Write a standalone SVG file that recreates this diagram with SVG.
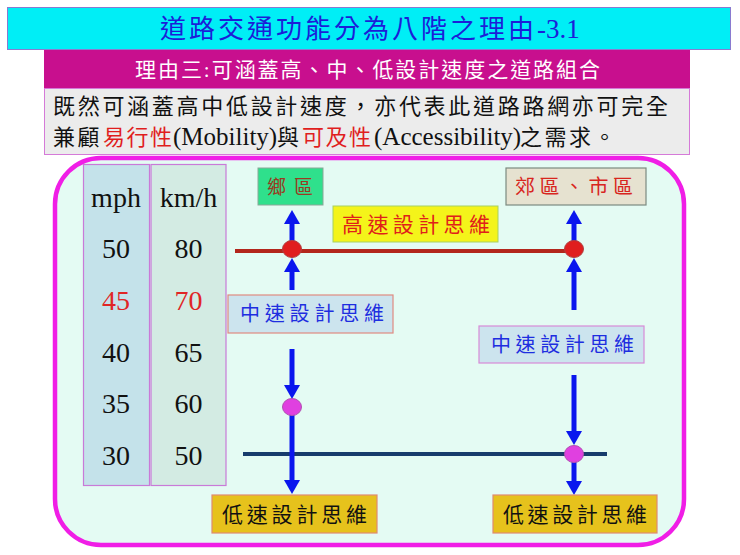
<svg xmlns="http://www.w3.org/2000/svg" width="740" height="555" viewBox="0 0 740 555">
<defs>
<marker id="ah" viewBox="0 0 14 16" refX="0" refY="8" markerWidth="14" markerHeight="16" markerUnits="userSpaceOnUse" orient="auto">
<path d="M0,0 L14,8 L0,16 z" fill="#0a16ee"/>
</marker>
<style>
.cjk{font-family:"Liberation Serif","Noto Sans CJK TC",serif;}
.num{font-family:"Liberation Serif",serif;font-size:28px;fill:#111;text-anchor:middle;}
.arrow{stroke:#0a16ee;stroke-width:5;fill:none;marker-end:url(#ah);}
.lbl{font-family:"Noto Sans CJK TC",sans-serif;}
</style>
</defs>
<rect width="740" height="555" fill="#ffffff"/>

<g id="title">
<rect x="7.5" y="7.5" width="723" height="42" fill="#00eef6" stroke="#8a7ad0" stroke-width="1"/>
<text class="cjk" x="160" y="38" font-size="26" fill="#1c1ed8"><tspan letter-spacing="3">道路交通功能分為八階之理由</tspan><tspan font-size="27">-3.1</tspan></text>
</g>

<g id="subtitle">
<rect x="44" y="50" width="646" height="38" fill="#c80f8e"/>
<text class="cjk" x="135" y="77" font-size="21" fill="#ffffff" textLength="465" lengthAdjust="spacing">理由三:可涵蓋高、中、低設計速度之道路組合</text>
</g>

<g id="description">
<rect x="44.5" y="88.5" width="645" height="66" fill="#ececec" stroke="#d57ad8" stroke-width="1"/>
<text class="cjk" x="53" y="114" font-size="22" fill="#111" textLength="615" lengthAdjust="spacing">既然可涵蓋高中低設計速度，亦代表此道路路網亦可完全</text>
<text class="cjk" y="145" font-size="22" fill="#111">
<tspan x="53" letter-spacing="2.5">兼顧</tspan><tspan x="103" fill="#e01e1e" letter-spacing="1.5">易行性</tspan><tspan x="173" font-size="25">(Mobility)</tspan><tspan x="277">與</tspan><tspan x="302" fill="#e01e1e" letter-spacing="1.5">可及性</tspan><tspan x="374" font-size="25">(Accessibility)</tspan><tspan x="520" letter-spacing="2.5">之需求。</tspan>
</text>
</g>

<g id="panel">
<rect x="55" y="158" width="629" height="387" rx="46" ry="46" fill="#e4fbf3" stroke="#f01ee6" stroke-width="4.5"/>
</g>

<g id="mph-column">
<rect x="83.5" y="164.5" width="66" height="321" fill="#c4e2ea" stroke="#c97ad8" stroke-width="1.2"/>
<text class="num" x="116" y="207">mph</text>
<text class="num" x="116" y="258">50</text>
<text class="num" x="116" y="310" style="fill:#e02626">45</text>
<text class="num" x="116" y="362">40</text>
<text class="num" x="116" y="413">35</text>
<text class="num" x="116" y="465">30</text>
</g>

<g id="kmh-column">
<rect x="151" y="164.5" width="75" height="321" fill="#d3ebe3" stroke="#c97ad8" stroke-width="1.2"/>
<text class="num" x="188.5" y="207">km/h</text>
<text class="num" x="188.5" y="258">80</text>
<text class="num" x="188.5" y="310" style="fill:#e02626">70</text>
<text class="num" x="188.5" y="362">65</text>
<text class="num" x="188.5" y="413">60</text>
<text class="num" x="188.5" y="465">50</text>
</g>

<g id="rural">
<rect x="258" y="168" width="65" height="37" fill="#2fe08c" stroke="#8aa898" stroke-width="1"/>
<text class="lbl" x="267" y="194" font-size="19" fill="#9a3a22" textLength="46" lengthAdjust="spacing">鄉區</text>
</g>

<g id="urban">
<rect x="506" y="168" width="140" height="37" fill="#e6e2d0" stroke="#7c8a80" stroke-width="1.2"/>
<text class="lbl" x="515" y="194" font-size="20" fill="#d8261e" textLength="118" lengthAdjust="spacing">郊區、市區</text>
</g>

<g id="high-speed">
<rect x="333" y="206" width="165" height="36" fill="#f4f41a" stroke="#a8d060" stroke-width="1"/>
<text class="lbl" x="342" y="232" font-size="21" fill="#e0201a" textLength="148" lengthAdjust="spacing">高速設計思維</text>
</g>

<g id="connectors">
<line x1="235" y1="251" x2="574" y2="251" stroke="#b3261c" stroke-width="4"/>
<line x1="243" y1="454" x2="607" y2="454" stroke="#173c6c" stroke-width="4"/>
<line class="arrow" x1="292" y1="249" x2="292" y2="224"/>
<line class="arrow" x1="292" y1="290" x2="292" y2="272"/>
<line class="arrow" x1="292" y1="349" x2="292" y2="385"/>
<line class="arrow" x1="292" y1="407" x2="292" y2="480"/>
<line class="arrow" x1="574" y1="249" x2="574" y2="224"/>
<line class="arrow" x1="574" y1="310" x2="574" y2="272"/>
<line class="arrow" x1="574" y1="375" x2="574" y2="431"/>
<line class="arrow" x1="574" y1="454" x2="574" y2="481"/>
</g>

<g id="node-high-left"><ellipse cx="292" cy="249" rx="9.5" ry="8.5" fill="#e01e1e" stroke="#b04040" stroke-width="1"/></g>
<g id="node-high-right"><ellipse cx="574" cy="249" rx="9.5" ry="8.5" fill="#e01e1e" stroke="#b04040" stroke-width="1"/></g>
<g id="node-mid-left"><ellipse cx="292" cy="407" rx="9.5" ry="8.5" fill="#e040e0" stroke="#b050b0" stroke-width="1"/></g>
<g id="node-low-right"><ellipse cx="574" cy="454" rx="9.5" ry="8.5" fill="#e040e0" stroke="#b050b0" stroke-width="1"/></g>

<g id="mid-speed-left">
<rect x="228" y="295" width="165" height="38" fill="#cce4ee" stroke="#e08a80" stroke-width="1.2"/>
<text class="lbl" x="240" y="321" font-size="20" fill="#1e2ee0" textLength="144" lengthAdjust="spacing">中速設計思維</text>
</g>

<g id="mid-speed-right">
<rect x="479" y="326" width="165" height="37" fill="#cce4ee" stroke="#d88ad8" stroke-width="1.2"/>
<text class="lbl" x="491" y="352" font-size="20" fill="#1e2ee0" textLength="143" lengthAdjust="spacing">中速設計思維</text>
</g>

<g id="low-speed-left">
<rect x="212" y="495" width="165" height="38" fill="#e6c21c" stroke="#e08a70" stroke-width="1.2"/>
<text class="lbl" x="222" y="522" font-size="21" fill="#111" textLength="145" lengthAdjust="spacing">低速設計思維</text>
</g>

<g id="low-speed-right">
<rect x="493" y="495" width="164" height="38" fill="#e6c21c" stroke="#e08a70" stroke-width="1.2"/>
<text class="lbl" x="503" y="522" font-size="21" fill="#111" textLength="144" lengthAdjust="spacing">低速設計思維</text>
</g>
</svg>
